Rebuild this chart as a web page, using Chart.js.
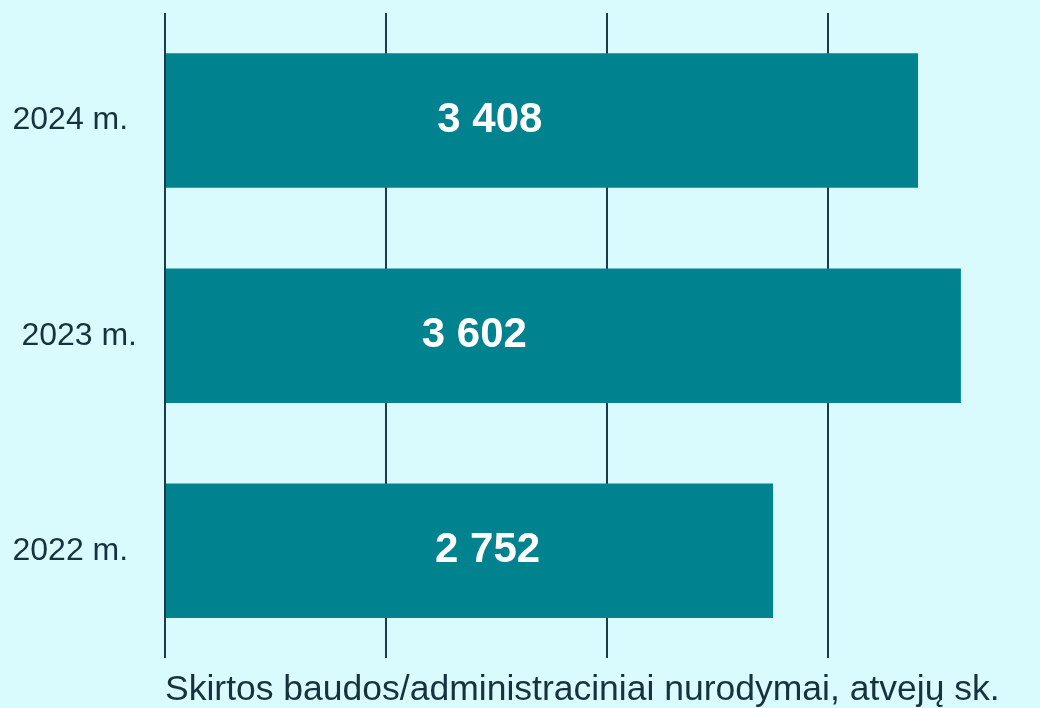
<!DOCTYPE html>
<html>
<head>
<meta charset="utf-8">
<script src="https://cdn.jsdelivr.net/npm/chart.js@4"></script>
<style>
  html, body { margin: 0; padding: 0; background: #d9fbfd; }
  #wrap { width: 1040px; height: 708px; }
</style>
</head>
<body>
<div id="wrap"><canvas id="myChart"></canvas></div>
<script>
// labels carry a trailing space where the original was offset
var years = ['2024 m. ', '2023 m.', '2022 m. '];
var cases = [3408, 3602, 2752];
var gridSteps = [0, 1000, 2000, 3000];

var textColor = '#17323f';

function fmt(n) {
    return String(n).replace(/\B(?=(\d{3})+(?!\d))/g, ' ');
}

var barLabels = {
    id: 'barLabels',
    afterDatasetsDraw: function (chart, args, opts) {
        var ctx = chart.ctx;
        var xs = chart.scales.x;
        var meta = chart.getDatasetMeta(0);
        ctx.save();
        ctx.fillStyle = '#ffffff';
        ctx.font = 'bold 42px "Liberation Sans", Arial, sans-serif';
        ctx.textAlign = 'center';
        ctx.textBaseline = 'middle';
        meta.data.forEach(function (bar, i) {
            var x = xs.getPixelForValue(opts.at[i]);
            ctx.fillText(fmt(cases[i]), x, bar.y);
        });
        ctx.restore();
    }
};

var ctx = document.getElementById('myChart').getContext('2d');
var myChart = new Chart(ctx, {
    type: 'bar',
    data: {
        labels: years,
        datasets: [{
            label: 'Skirtos baudos/administraciniai nurodymai, atvejų sk.',
            data: cases,
            backgroundColor: '#00838f',
            barPercentage: 0.625,
            categoryPercentage: 1
        }]
    },
    options: {
        indexAxis: 'y',
        responsive: true,
        maintainAspectRatio: false,
        animation: false,
        layout: { padding: { top: 13, right: 0, bottom: 0, left: 0 } },
        plugins: {
            legend: { display: false },
            tooltip: { enabled: false },
            barLabels: { at: [1470, 1400, 1460] }
        },
        scales: {
            x: {
                min: 0,
                max: 3960,
                afterBuildTicks: function (scale) {
                    scale.ticks = gridSteps.map(function (v) { return { value: v }; });
                },
                ticks: { display: false },
                grid: { color: '#1b3a4b', lineWidth: 2, drawTicks: false },
                border: { display: false },
                title: {
                    display: true,
                    align: 'start',
                    text: 'Skirtos baudos/administraciniai nurodymai, atvejų sk.',
                    color: textColor,
                    font: { family: '"Liberation Sans", Arial, sans-serif', size: 35.5 },
                    padding: { top: 11, bottom: -4 }
                }
            },
            y: {
                afterFit: function (scale) {
                    scale.width = 165;
                    scale.paddingTop = 0;
                    scale.paddingBottom = 0;
                },
                grid: { display: false },
                border: { display: false },
                ticks: {
                    color: textColor,
                    padding: 20,
                    font: { family: '"Liberation Sans", Arial, sans-serif', size: 32 }
                }
            }
        }
    },
    plugins: [barLabels]
});
</script>
</body>
</html>
